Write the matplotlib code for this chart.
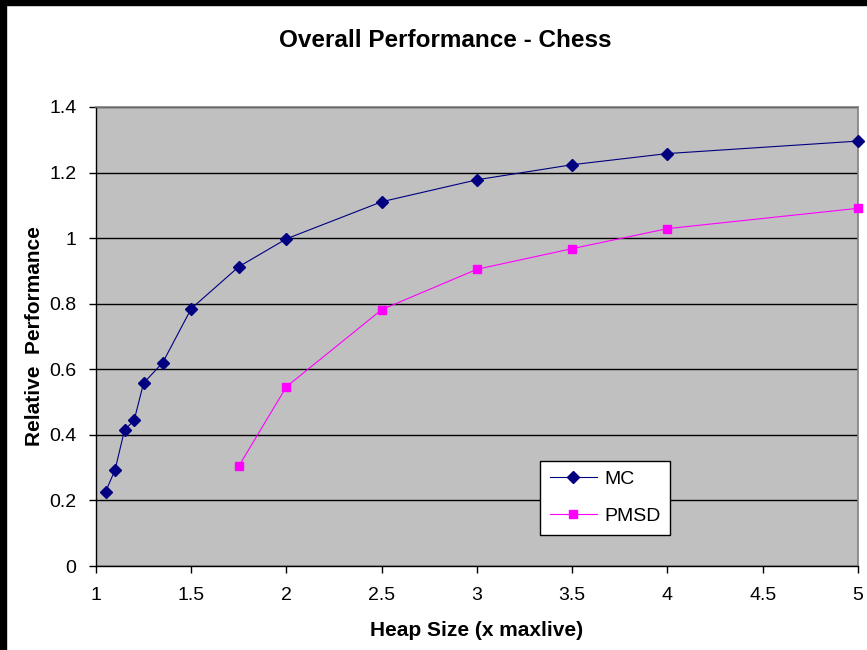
import matplotlib.pyplot as plt
from matplotlib.patches import Rectangle

plt.rcParams['font.family'] = ['Liberation Sans', 'DejaVu Sans']

# Heap size (x maxlive) and relative performance for each collector
mc_heap = [1.05, 1.1, 1.15, 1.2, 1.25, 1.35, 1.5, 1.75, 2, 2.5, 3, 3.5, 4, 5]
mc_perf = [0.226, 0.293, 0.415, 0.444, 0.558, 0.62, 0.785, 0.913, 0.998,
           1.111, 1.178, 1.224, 1.258, 1.296]
pmsd_heap = [1.75, 2, 2.5, 3, 3.5, 4, 5]
pmsd_perf = [0.305, 0.547, 0.782, 0.905, 0.968, 1.029, 1.091]

xticks = [1, 1.5, 2, 2.5, 3, 3.5, 4, 4.5, 5]
xtick_labels = ['1', '1.5', '2', '2.5', '3', '3.5', '4', '4.5', '5']
yticks = [0, 0.2, 0.4, 0.6, 0.8, 1, 1.2, 1.4]
ytick_labels = ['0', '0.2', '0.4', '0.6', '0.8', '1', '1.2', '1.4']

fig = plt.figure(figsize=(8.67, 6.5), dpi=100)
ax = fig.add_axes([0.1107, 0.1292, 0.8789, 0.7062])
ax.set_facecolor('#c0c0c0')

# black frame along the top and left edge of the image
fig.patches.append(Rectangle((0, 0.992), 1, 0.008, transform=fig.transFigure,
                             color='black', zorder=0))
fig.patches.append(Rectangle((0, 0), 0.007, 1, transform=fig.transFigure,
                             color='black', zorder=0))

ax.plot(mc_heap, mc_perf, color='#000080', lw=0.8, marker='D', ms=6.5,
        mfc='#000080', mec='#000080', label='MC', clip_on=False, zorder=3)
ax.plot(pmsd_heap, pmsd_perf, color='#ff00ff', lw=0.8, marker='s', ms=6,
        mfc='#ff00ff', mec='#ff00ff', label='PMSD', clip_on=False, zorder=3)

ax.set_xlim(1, 5)
ax.set_ylim(0, 1.4)
ax.set_xticks(xticks)
ax.set_xticklabels(xtick_labels)
ax.set_yticks(yticks)
ax.set_yticklabels(ytick_labels)
ax.tick_params(direction='out', length=5, width=1, labelsize=14)
ax.tick_params(axis='x', pad=10)
ax.tick_params(axis='y', pad=9)
ax.yaxis.grid(True, color='black', lw=1)
ax.set_axisbelow(True)

for side in ['left', 'bottom']:
    ax.spines[side].set_color('black')
    ax.spines[side].set_linewidth(1)
for side in ['top', 'right']:
    ax.spines[side].set_color('#808080')
    ax.spines[side].set_linewidth(1.2)

ax.set_xlabel('Heap Size (x maxlive)', fontsize=15, fontweight='bold', labelpad=12)
ax.set_ylabel('Relative  Performance', fontsize=15, fontweight='bold', labelpad=4)
fig.text(0.514, 0.938, 'Overall Performance - Chess',
         ha='center', va='center', fontsize=17.5, fontweight='bold')

leg = ax.legend(loc='upper left', bbox_to_anchor=(0.583, 0.229), borderaxespad=0,
                fontsize=14, frameon=True, fancybox=False, edgecolor='black',
                framealpha=1, handlelength=2.4, borderpad=0.5, labelspacing=1.0,
                handletextpad=0.4)
leg.get_frame().set_linewidth(1)

fig.savefig('out.png', dpi=100)
